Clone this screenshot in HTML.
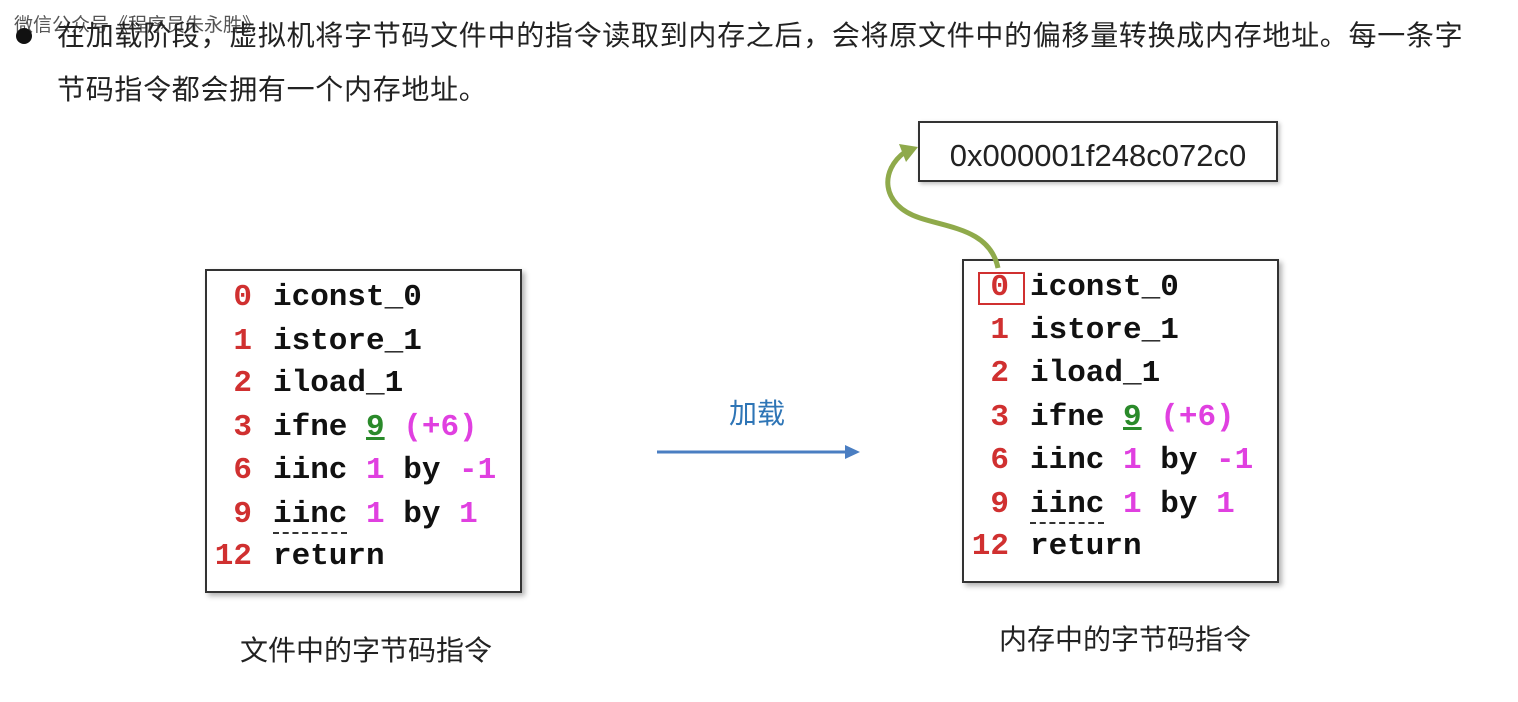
<!DOCTYPE html>
<html><head><meta charset="utf-8"><style>
body{margin:0;width:1518px;height:702px;background:#fff;position:relative;overflow:hidden;font-family:"Liberation Sans","Noto Sans CJK SC",sans-serif}
.a{position:absolute;white-space:nowrap}
.hd{font-size:28px;color:#222;letter-spacing:0.7px;line-height:1}
.box{position:absolute;border:2px solid #333;background:#fff;box-shadow:3px 3px 5px rgba(0,0,0,0.3)}
.ln{position:absolute;font-family:"Liberation Mono",monospace;font-weight:bold;font-size:31px;line-height:1;color:#111;white-space:pre}
.n{position:absolute;color:#d03030;text-align:right;width:60px}
.m{color:#e040e0}.g{color:#2a8a2a;text-decoration:underline}
.dash{border-bottom:2px dashed #333}
.cap{font-size:28px;color:#222}
</style></head><body>
<div class="a" style="left:14px;top:10px;font-size:19px;color:#555">微信公众号《程序员朱永胜》</div>
<div class="a" style="left:16px;top:28px;width:16px;height:16px;border-radius:50%;background:#111"></div>
<div class="a hd" style="left:57px;top:22px">在加载阶段，虚拟机将字节码文件中的指令读取到内存之后，会将原文件中的偏移量转换成内存地址。每一条字</div>
<div class="a hd" style="left:57px;top:76px">节码指令都会拥有一个内存地址。</div>

<div class="box" style="left:205px;top:269px;width:313px;height:320px"></div>
<div class="ln" style="left:192px;top:282px"><span class="n">0</span><span style="position:absolute;left:81px">iconst_0</span></div>
<div class="ln" style="left:192px;top:326px"><span class="n">1</span><span style="position:absolute;left:81px">istore_1</span></div>
<div class="ln" style="left:192px;top:368px"><span class="n">2</span><span style="position:absolute;left:81px">iload_1</span></div>
<div class="ln" style="left:192px;top:412px"><span class="n">3</span><span style="position:absolute;left:81px">ifne <span class="g">9</span> <span class="m">(+6)</span></span></div>
<div class="ln" style="left:192px;top:455px"><span class="n">6</span><span style="position:absolute;left:81px">iinc <span class="m">1</span> by <span class="m">-1</span></span></div>
<div class="ln" style="left:192px;top:499px"><span class="n">9</span><span style="position:absolute;left:81px"><span class="dash">iinc</span> <span class="m">1</span> by <span class="m">1</span></span></div>
<div class="ln" style="left:192px;top:541px"><span class="n">12</span><span style="position:absolute;left:81px">return</span></div>

<div class="box" style="left:962px;top:259px;width:313px;height:320px"></div>
<div class="a" style="left:978px;top:272px;width:43px;height:29px;border:2px solid #d03030"></div>
<div class="ln" style="left:949px;top:272px"><span class="n">0</span><span style="position:absolute;left:81px">iconst_0</span></div>
<div class="ln" style="left:949px;top:315px"><span class="n">1</span><span style="position:absolute;left:81px">istore_1</span></div>
<div class="ln" style="left:949px;top:358px"><span class="n">2</span><span style="position:absolute;left:81px">iload_1</span></div>
<div class="ln" style="left:949px;top:402px"><span class="n">3</span><span style="position:absolute;left:81px">ifne <span class="g">9</span> <span class="m">(+6)</span></span></div>
<div class="ln" style="left:949px;top:445px"><span class="n">6</span><span style="position:absolute;left:81px">iinc <span class="m">1</span> by <span class="m">-1</span></span></div>
<div class="ln" style="left:949px;top:489px"><span class="n">9</span><span style="position:absolute;left:81px"><span class="dash">iinc</span> <span class="m">1</span> by <span class="m">1</span></span></div>
<div class="ln" style="left:949px;top:531px"><span class="n">12</span><span style="position:absolute;left:81px">return</span></div>

<div class="box" style="left:918px;top:121px;width:356px;height:57px;box-shadow:2px 2px 4px rgba(0,0,0,0.25)"></div>
<div class="a" style="left:918px;top:138px;width:360px;text-align:center;font-size:31px;color:#222">0x000001f248c072c0</div>

<svg class="a" style="left:0;top:0" width="1518" height="702">
<path d="M998 268 C990 230 950 228 920 218 C880 205 880 170 905 152" fill="none" stroke="#8faa4b" stroke-width="5"/>
<polygon points="918,147 899,144 906,162" fill="#8faa4b"/>
<line x1="657" y1="452" x2="848" y2="452" stroke="#4a7ec2" stroke-width="3"/>
<polygon points="860,452 845,445 845,459" fill="#4a7ec2"/>
</svg>
<div class="a" style="left:729px;top:392px;font-size:28px;color:#2e75b6">加载</div>
<div class="a cap" style="left:240px;top:629px">文件中的字节码指令</div>
<div class="a cap" style="left:999px;top:618px">内存中的字节码指令</div>
</body></html>
